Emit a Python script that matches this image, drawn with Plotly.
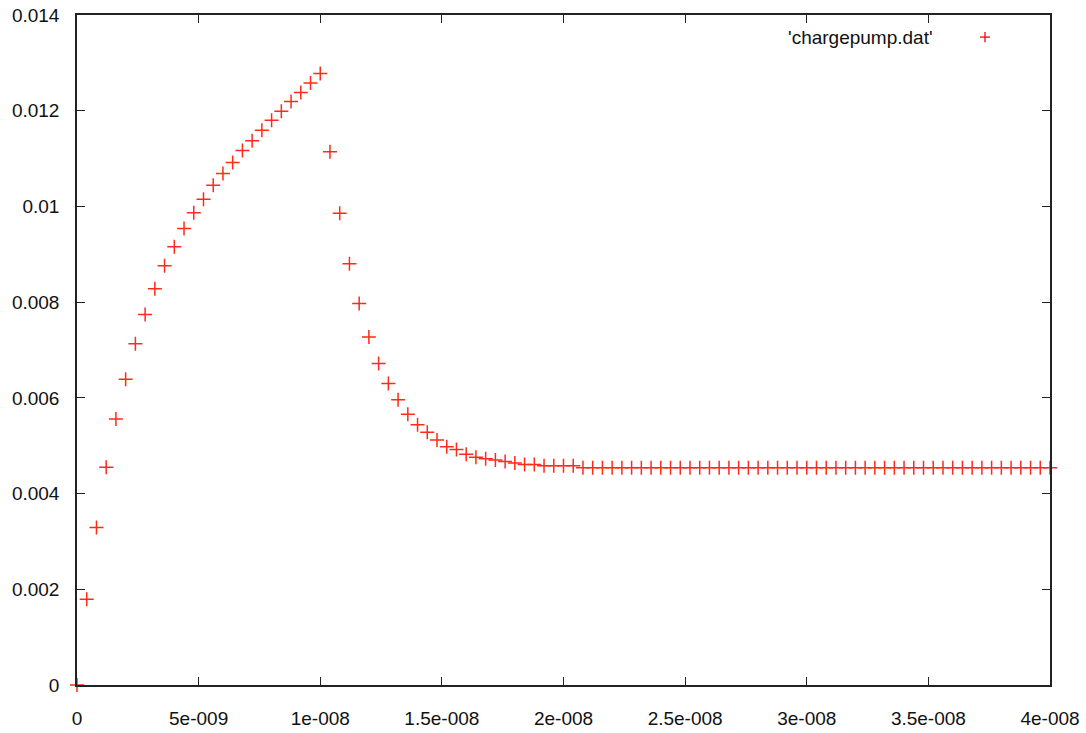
import plotly.graph_objects as go

# sample grid: 101 samples, 0.4 ns apart, 0 .. 40 ns
time_s = [round(i * 4e-10, 13) for i in range(101)]

charge = [
    0.0, 0.00179, 0.00329, 0.00455, 0.00556, 0.00639, 0.00713, 0.00774,
    0.00828, 0.00876, 0.00916, 0.00954, 0.00987, 0.01015, 0.01044, 0.01069,
    0.01092, 0.01117, 0.01137, 0.01159, 0.0118, 0.01199, 0.01219, 0.01238,
    0.01258, 0.01278,
    0.01114, 0.00986, 0.0088, 0.00797, 0.00727, 0.00672, 0.0063, 0.00596,
    0.00566, 0.00544, 0.00528, 0.00512, 0.00498, 0.00492, 0.00482, 0.00476,
    0.00473, 0.0047, 0.00467, 0.00464, 0.00461, 0.00461, 0.00458, 0.00458,
    0.00458, 0.00458,
] + [0.00454] * 49

x_tickvals = [0, 5e-9, 1e-8, 1.5e-8, 2e-8, 2.5e-8, 3e-8, 3.5e-8, 4e-8]
x_ticktext = ["0", "5e-009", "1e-008", "1.5e-008", "2e-008", "2.5e-008",
              "3e-008", "3.5e-008", "4e-008"]
y_tickvals = [0, 0.002, 0.004, 0.006, 0.008, 0.01, 0.012, 0.014]
y_ticktext = ["0", "0.002", "0.004", "0.006", "0.008", "0.01", "0.012", "0.014"]

series_name = "'chargepump.dat'"
red = "#ff2a18"
font_family = "Liberation Sans, Arial, sans-serif"

fig = go.Figure()
fig.add_trace(go.Scatter(
    x=time_s, y=charge, mode="markers", name=series_name,
    marker=dict(symbol="cross-thin", size=10, line=dict(color=red, width=1.5)),
    cliponaxis=False, showlegend=False,
))

axis_common = dict(
    showline=True, linecolor="#222", linewidth=1.5, mirror="ticks",
    ticks="inside", ticklen=8, tickwidth=1, tickcolor="#222",
    showgrid=False, zeroline=False, automargin=False,
    tickfont=dict(family=font_family, size=19, color="#111"),
)

fig.update_xaxes(range=[0, 4e-8], tickvals=x_tickvals, ticktext=x_ticktext,
                 ticklabelstandoff=15, **axis_common)
fig.update_yaxes(range=[0, 0.014], tickvals=y_tickvals, ticktext=y_ticktext,
                 ticklabelstandoff=12, **axis_common)

# gnuplot-style key: text, then sample symbol on the right
fig.add_annotation(
    xref="paper", yref="paper", x=0.8818, y=0.967, xanchor="right", yanchor="middle",
    text=series_name, showarrow=False,
    font=dict(family=font_family, size=19, color="#111"),
)
fig.add_shape(type="line", xref="paper", yref="paper",
              x0=0.9281, x1=0.9383, y0=0.967, y1=0.967,
              line=dict(color="red", width=1.3))
fig.add_shape(type="line", xref="paper", yref="paper",
              x0=0.9332, x1=0.9332, y0=0.9595, y1=0.9745,
              line=dict(color="red", width=1.3))

fig.update_layout(
    width=1086, height=733,
    margin=dict(l=77, r=36, t=15, b=48),
    paper_bgcolor="white", plot_bgcolor="white",
    showlegend=False,
)

# remove the default page margin so the figure fills the window exactly
fig.write_html(
    "out.html",
    config={"displayModeBar": False},
    post_script="document.body.style.margin='0';document.body.style.overflow='hidden';",
)
